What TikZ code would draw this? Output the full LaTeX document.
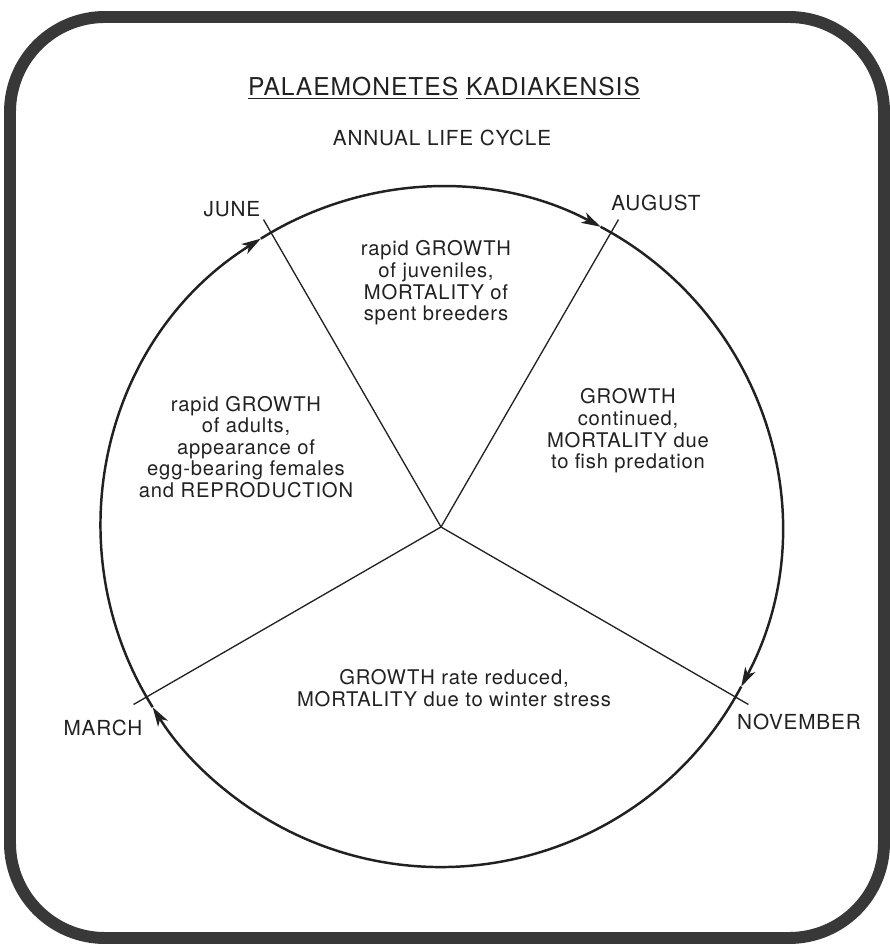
\documentclass[tikz,border=0pt]{standalone}
\usepackage{fontspec}
\setmainfont{TeX Gyre Heros}[LetterSpace=4]
\usetikzlibrary{arrows.meta}

\definecolor{ink}{gray}{0.13}
\definecolor{framegray}{gray}{0.22}

\tikzset{
  cycle arc/.style={line width=1.4pt, draw=ink, -{Stealth[length=11pt,width=6.5pt,inset=3pt]}},
  spoke/.style={line width=0.75pt, draw=ink},
  month/.style={text=ink, font=\fontsize{11.8}{13}\selectfont},
  season/.style={text=ink, align=center, font=\fontsize{11.5}{12.3}\selectfont},
  heading/.style={text=ink, font=\fontsize{14}{16}\selectfont},
}

\begin{document}
\begin{tikzpicture}[x=0.02cm,y=0.02cm]
      \useasboundingbox (-441,-418) rectangle (448,527);

      \draw[framegray, line width=6.8pt, rounded corners=1.9cm] (-431,-411) rectangle (443,510);

      \node[heading] (title) at (3,439) {\underline{PALAEMONETES} \underline{KADIAKENSIS}};
      \node[text=ink, font=\fontsize{11.8}{13}\selectfont] (subtitle) at (1,389) {ANNUAL LIFE CYCLE};

      \coordinate (c) at (0,0);
      \coordinate (june) at (120:355);
      \coordinate (august) at (60:355);
      \coordinate (november) at (-30:355);
      \coordinate (march) at (210:355);

      \draw[cycle arc] (212:340) arc[start angle=212, end angle=122, radius=340];
      \draw[cycle arc] (122:340) arc[start angle=122, end angle=62, radius=340];
      \draw[cycle arc] (62:340) arc[start angle=62, end angle=-28, radius=340];
      \draw[cycle arc] (-28:340) arc[start angle=-28, end angle=-148, radius=340];

      \draw[spoke] (c) -- (june);
      \draw[spoke] (c) -- (august);
      \draw[spoke] (c) -- (november);
      \draw[spoke] (c) -- (march);

      \node[month] (june label) at (-209,318) {JUNE};
      \node[month] (august label) at (215,324) {AUGUST};
      \node[month] (november label) at (358,-195) {NOVEMBER};
      \node[month] (march label) at (-338,-201) {MARCH};

      \node[season] (summer) at (-5,244) {rapid GROWTH\\of juveniles,\\MORTALITY of\\spent breeders};
      \node[season] (spring) at (-195,80) {rapid GROWTH\\of adults,\\appearance of\\egg-bearing females\\and REPRODUCTION};
      \node[season] (autumn) at (187,96) {GROWTH\\continued,\\MORTALITY due\\to fish predation};
      \node[season] (winter) at (13,-161) {GROWTH rate reduced,\\MORTALITY due to winter stress};
    \end{tikzpicture}
\end{document}
